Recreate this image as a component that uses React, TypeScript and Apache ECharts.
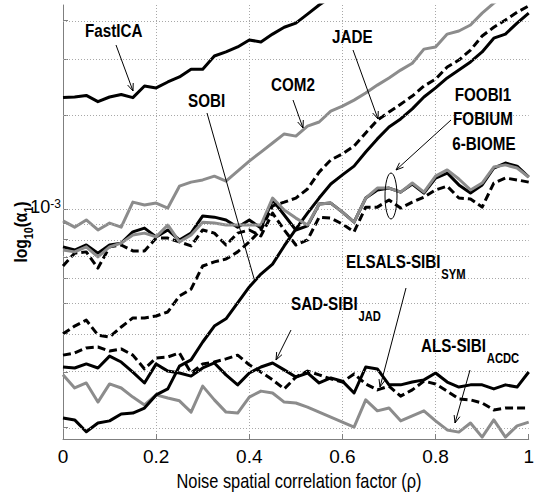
import React, { useEffect, useRef } from "react";
import * as echarts from "echarts";

// Noise spatial correlation factor (rho)
const RHO = [0, 0.025, 0.05, 0.075, 0.1, 0.125, 0.15, 0.175, 0.2, 0.225, 0.25, 0.275, 0.3, 0.325, 0.35, 0.375, 0.4, 0.425, 0.45, 0.475, 0.5, 0.525, 0.55, 0.575, 0.6, 0.625, 0.65, 0.675, 0.7, 0.725, 0.75, 0.775, 0.8, 0.825, 0.85, 0.875, 0.9, 0.925, 0.95, 0.975, 1];

// log10(alpha_1) values
const FASTICA = [-2.644, -2.642, -2.637, -2.657, -2.642, -2.634, -2.644, -2.607, -2.613, -2.594, -2.578, -2.553, -2.553, -2.511, -2.498, -2.482, -2.46, -2.466, -2.441, -2.419, -2.406, -2.377, -2.348, -2.323, -2.294];
const COM2 = [-3.038, -3.058, -3.035, -3.067, -3.045, -3.058, -2.978, -2.987, -2.981, -2.997, -2.927, -2.914, -2.907, -2.895, -2.911, -2.879, -2.847, -2.818, -2.789, -2.76, -2.767, -2.735, -2.722, -2.687, -2.671, -2.652, -2.629, -2.604, -2.581, -2.556, -2.534, -2.489, -2.482, -2.441, -2.431, -2.412, -2.374, -2.342, -2.316];
const JADE = [-3.399, -3.374, -3.355, -3.403, -3.409, -3.377, -3.348, -3.348, -3.342, -3.329, -3.278, -3.256, -3.182, -3.169, -3.16, -3.137, -3.105, -3.067, -2.99, -2.978, -2.965, -2.936, -2.882, -2.843, -2.824, -2.799, -2.757, -2.716, -2.69, -2.665, -2.639, -2.607, -2.585, -2.546, -2.524, -2.492, -2.447, -2.419, -2.396, -2.371, -2.351];
const SOBI = [-3.668, -3.674, -3.712, -3.684, -3.677, -3.655, -3.652, -3.636, -3.594, -3.575, -3.502, -3.482, -3.425, -3.374, -3.351, -3.3, -3.249, -3.208, -3.176, -3.118, -3.064, -3.013, -2.965, -2.92, -2.891, -2.863, -2.818, -2.776, -2.738, -2.712, -2.68, -2.642, -2.613, -2.581, -2.556, -2.53, -2.498, -2.454, -2.441, -2.406, -2.374];
const FOOBI1 = [-3.121, -3.131, -3.115, -3.141, -3.115, -3.109, -3.073, -3.061, -3.089, -3.067, -3.099, -3.077, -3.022, -3.026, -3.035, -3.058, -3.035, -3.061, -2.971, -3.019, -3.067, -3.054, -2.984, -2.981, -3.01, -3.042, -2.965, -2.939, -2.933, -2.946, -2.92, -2.949, -2.901, -2.885, -2.923, -2.949, -2.923, -2.869, -2.853, -2.863, -2.898];
const FOBIUM = [-3.131, -3.137, -3.121, -3.153, -3.121, -3.109, -3.083, -3.077, -3.089, -3.051, -3.105, -3.083, -3.042, -3.045, -3.051, -3.051, -3.051, -3.051, -2.965, -3.003, -3.029, -3.051, -2.984, -2.981, -3.01, -3.042, -2.965, -2.933, -2.933, -2.946, -2.917, -2.946, -2.895, -2.875, -2.904, -2.939, -2.917, -2.866, -2.859, -2.869, -2.898];
const BIOME6 = [-3.182, -3.141, -3.137, -3.189, -3.121, -3.115, -3.134, -3.134, -3.093, -3.093, -3.105, -3.118, -3.067, -3.077, -3.115, -3.077, -3.067, -3.086, -3.013, -3.067, -3.115, -3.099, -3.026, -3.029, -3.048, -3.073, -2.994, -2.994, -2.971, -2.997, -2.978, -2.962, -2.939, -2.927, -2.965, -2.968, -2.994, -2.917, -2.901, -2.907, -2.914];
const SAD_SIBI = [-3.505, -3.508, -3.495, -3.508, -3.47, -3.489, -3.521, -3.556, -3.495, -3.518, -3.524, -3.534, -3.508, -3.492, -3.53, -3.562, -3.524, -3.505, -3.492, -3.514, -3.537, -3.524, -3.556, -3.54, -3.55, -3.588, -3.505, -3.511, -3.562, -3.562, -3.553, -3.546, -3.524, -3.553, -3.569, -3.562, -3.562, -3.575, -3.562, -3.569, -3.521];
const ELSALS_SIBI = [-3.467, -3.46, -3.444, -3.441, -3.454, -3.447, -3.467, -3.511, -3.476, -3.473, -3.46, -3.524, -3.495, -3.489, -3.479, -3.467, -3.498, -3.521, -3.546, -3.575, -3.537, -3.518, -3.53, -3.543, -3.553, -3.527, -3.559, -3.578, -3.566, -3.598, -3.578, -3.55, -3.559, -3.582, -3.607, -3.61, -3.62, -3.642, -3.636, -3.636, -3.636];
const ALS_SIBI = [-3.53, -3.572, -3.556, -3.617, -3.559, -3.572, -3.601, -3.626, -3.594, -3.604, -3.613, -3.649, -3.566, -3.61, -3.649, -3.652, -3.601, -3.582, -3.588, -3.617, -3.62, -3.633, -3.649, -3.665, -3.681, -3.697, -3.61, -3.645, -3.636, -3.677, -3.661, -3.645, -3.677, -3.706, -3.713, -3.684, -3.729, -3.674, -3.729, -3.693, -3.681];

// axis
const Y_MIN = -3.735;
const Y_MAX = -2.348;
const Y_GRID_ALPHA = [2e-4, 3e-4, 4e-4, 5e-4, 6e-4, 7e-4, 8e-4, 9e-4, 1e-3, 2e-3, 3e-3, 4e-3];
const Y_LABEL_VALUES = [-3];

const FONT = "'Liberation Sans',Arial,sans-serif";
const NARROW = 0.82;
const BLACK = "#000000";
const GRAY = "#8c8c8c";
const AXIS = "#7f7f7f";
const GRIDC = "#a8a8a8";

function lineSeries(name: string, vals: number[], color: string, dashed: boolean) {
  return {
    type: "line",
    name,
    data: vals.map((v, i) => [RHO[i], v]),
    symbol: "none",
    showSymbol: false,
    silent: true,
    clip: true,
    z: 3,
    lineStyle: { color, width: 3, type: dashed ? [8, 4] : "solid", cap: "butt", join: "round" },
  };
}

function arrow(x1: number, y1: number, x2: number, y2: number, head = true) {
  const els: any[] = [
    { type: "line", z: 100, shape: { x1, y1, x2, y2 }, style: { stroke: "#000", lineWidth: 1 } },
  ];
  if (head) {
    const a = Math.atan2(y2 - y1, x2 - x1);
    const L = 8;
    const w = 0.38;
    els.push({
      type: "polyline",
      z: 100,
      shape: {
        points: [
          [x2 - L * Math.cos(a - w), y2 - L * Math.sin(a - w)],
          [x2, y2],
          [x2 - L * Math.cos(a + w), y2 - L * Math.sin(a + w)],
        ],
      },
      style: { stroke: "#000", fill: "none", lineWidth: 1 },
    });
  }
  return els;
}

function label(x: number, y: number, main: string, sub?: string, align = "left") {
  return {
    type: "text",
    z: 100,
    x,
    y,
    scaleX: 0.8,
    style: {
      text: sub ? `{m|${main}}{s|${sub}}` : `{m|${main}}`,
      align,
      verticalAlign: "top",
      rich: {
        m: { fontSize: 19, lineHeight: 22, fontWeight: "bold", fontFamily: FONT, fill: "#000", verticalAlign: "top" },
        s: { fontSize: 14, lineHeight: 14, fontWeight: "bold", fontFamily: FONT, fill: "#000", verticalAlign: "top", padding: [16, 0, 0, 1] },
      },
    },
  };
}

export default function App() {
  const ref = useRef<HTMLDivElement>(null);
  useEffect(() => {
    if (!ref.current) return;
    const chart = echarts.init(ref.current, null, { renderer: "svg" });
    const grid = Y_GRID_ALPHA.map((a) => Math.log10(a));
    const option: any = {
      animation: false,
      backgroundColor: "#ffffff",
      grid: { left: 63, right: 2, top: 5, bottom: 53, containLabel: false },
      xAxis: {
        type: "value",
        min: 0,
        max: 1,
        interval: 0.2,
        axisLine: { show: true, lineStyle: { color: AXIS, width: 1 } },
        axisTick: { show: true, inside: true, length: 5, lineStyle: { color: AXIS } },
        axisLabel: {
          fontFamily: FONT,
          fontSize: 19,
          color: "#000",
          margin: 8,
          formatter: (v: number) => (Math.abs(v) < 1e-9 ? "0" : Math.abs(v - 1) < 1e-9 ? "1" : v.toFixed(1)),
        },
        splitLine: { show: true, showMinLine: false, showMaxLine: false, lineStyle: { type: [1, 2], color: GRIDC, width: 1 } },
      },
      yAxis: {
        type: "value",
        min: Y_MIN,
        max: Y_MAX,
        axisLine: { show: true, lineStyle: { color: AXIS, width: 1 } },
        axisTick: { show: true, inside: true, length: 5, customValues: grid, lineStyle: { color: AXIS } },
        axisLabel: {
          show: true,
          customValues: Y_LABEL_VALUES,
          margin: 2,
          formatter: (v: number) => `{b|10}{s|${Math.round(v)}}`,
          rich: {
            b: { fontSize: 18, lineHeight: 22, fontFamily: FONT, color: "#000", verticalAlign: "top" },
            s: { fontSize: 12, lineHeight: 12, fontFamily: FONT, color: "#000", verticalAlign: "top" },
          },
        },
        splitLine: { show: false },
      },
      series: [
        {
          type: "line",
          data: [],
          z: 1,
          silent: true,
          markLine: {
            silent: true,
            symbol: ["none", "none"],
            animation: false,
            label: { show: false },
            lineStyle: { type: [1, 2], color: GRIDC, width: 1 },
            data: grid.map((v) => ({ yAxis: v })),
          },
        },
        lineSeries("ALS-SIBI ACDC", ALS_SIBI, GRAY, false),
        lineSeries("ELSALS-SIBI SYM", ELSALS_SIBI, BLACK, true),
        lineSeries("SAD-SIBI JAD", SAD_SIBI, BLACK, false),
        lineSeries("SOBI", SOBI, BLACK, false),
        lineSeries("6-BIOME", BIOME6, BLACK, true),
        lineSeries("FOOBI1", FOOBI1, BLACK, false),
        lineSeries("FOBIUM", FOBIUM, GRAY, false),
        lineSeries("JADE", JADE, BLACK, true),
        lineSeries("COM2", COM2, GRAY, false),
        lineSeries("FastICA", FASTICA, BLACK, false),
      ],
      graphic: [
        label(85, 21, "FastICA"),
        ...arrow(116, 45, 133, 91),
        label(188, 91, "SOBI"),
        ...arrow(207, 113, 255, 282, false),
        label(271, 75, "COM2"),
        ...arrow(293, 100, 303, 128),
        label(332, 27, "JADE"),
        ...arrow(353, 50, 378, 119),
        label(483, 85, "FOOBI1", undefined, "center"),
        label(483, 109, "FOBIUM", undefined, "center"),
        label(484, 134, "6-BIOME", undefined, "center"),
        ...arrow(451, 120, 396, 170),
        {
          type: "ellipse",
          z: 100,
          shape: { cx: 391, cy: 196, rx: 6, ry: 23 },
          style: { fill: "none", stroke: "#000", lineWidth: 1 },
        },
        label(346, 252, "ELSALS-SIBI", "SYM"),
        ...arrow(406, 288, 380, 387),
        label(291, 294, "SAD-SIBI", "JAD"),
        ...arrow(291, 330, 276, 360),
        label(421, 336, "ALS-SIBI", "ACDC"),
        ...arrow(470, 370, 455, 423),
        {
          type: "text",
          z: 100,
          x: 299,
          y: 481,
          scaleX: NARROW,
          style: {
            text: "Noise spatial correlation factor (ρ)",
            fontFamily: FONT,
            fontSize: 20,
            fill: "#000",
            align: "center",
            verticalAlign: "middle",
          },
        },
        {
          type: "text",
          z: 100,
          x: 21,
          y: 232,
          rotation: Math.PI / 2,
          scaleX: NARROW,
          style: {
            text: "{a|log}{s|10}{a|(α}{s|1}{a|)}",
            align: "center",
            verticalAlign: "middle",
            rich: {
              a: { fontSize: 19, lineHeight: 21, fontWeight: "bold", fontFamily: FONT, fill: "#000", verticalAlign: "top" },
              s: { fontSize: 13, lineHeight: 13, fontWeight: "bold", fontFamily: FONT, fill: "#000", verticalAlign: "top", padding: [12, 0, 0, 0] },
            },
          },
        },
      ],
    };
    chart.setOption(option);
    return () => chart.dispose();
  }, []);
  return (
    <div
      ref={ref}
      style={{ position: "fixed", left: 0, top: 0, width: 537, height: 492, background: "#fff" }}
    />
  );
}
